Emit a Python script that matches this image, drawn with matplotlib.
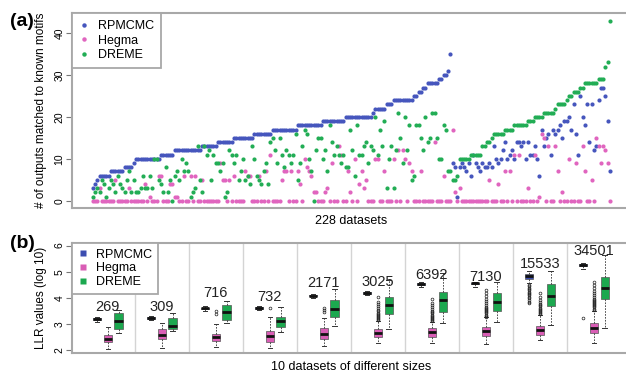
import matplotlib.pyplot as plt
from matplotlib.lines import Line2D

plt.rcParams['font.family'] = ['Liberation Sans', 'DejaVu Sans']

# ---- panel (a): outputs matched to known motifs, 228 datasets ----
rpmcmc_hits = [
    3, 4, 5, 6, 6, 6, 6, 6, 7, 7,
    7, 7, 7, 7, 8, 8, 8, 8, 9, 10,
    10, 10, 10, 10, 10, 10, 10, 10, 10, 10,
    11, 11, 11, 11, 11, 11, 12, 12, 12, 12,
    12, 12, 12, 12, 12, 12, 12, 12, 13, 13,
    13, 13, 13, 13, 13, 14, 14, 14, 14, 14,
    14, 14, 15, 15, 15, 15, 15, 15, 15, 15,
    15, 16, 16, 16, 16, 16, 16, 16, 16, 17,
    17, 17, 17, 17, 17, 17, 17, 17, 17, 17,
    18, 18, 18, 18, 18, 18, 18, 18, 18, 18,
    18, 19, 19, 19, 19, 19, 19, 19, 19, 19,
    19, 20, 20, 20, 20, 20, 20, 20, 20, 20,
    20, 20, 20, 21, 22, 22, 22, 22, 22, 23,
    23, 23, 24, 24, 24, 24, 24, 24, 24, 24,
    24, 25, 25, 26, 26, 27, 27, 28, 28, 28,
    28, 28, 29, 29, 30, 30, 31, 35,
    9, 8, 1, 8, 9, 8, 7, 9, 6, 11,
    9, 8, 7, 9, 8, 8, 9, 8, 13, 10,
    9, 10, 12, 14, 10, 11, 12, 10, 14, 14,
    13, 14, 10, 14, 11, 11, 13, 10, 6, 17,
    13, 15, 16, 11, 17, 16, 17, 18, 15, 19,
    19, 20, 17, 23, 16, 11, 25, 20, 18, 23,
    14, 23, 12, 13, 24, 27, 27, 25, 19, 7,
]
hegma_hits = [
    0, 0, 0, 3, 0, 0, 0, 0, 0, 0,
    5, 0, 0, 0, 0, 0, 3, 0, 0, 0,
    0, 0, 0, 4, 0, 1, 0, 0, 0, 6,
    6, 0, 0, 0, 4, 4, 1, 1, 0, 0,
    6, 0, 0, 6, 0, 6, 0, 0, 5, 0,
    0, 0, 0, 0, 0, 0, 9, 5, 5, 0,
    5, 0, 6, 0, 0, 0, 0, 7, 6, 6,
    0, 0, 0, 6, 0, 0, 7, 0, 11, 0,
    0, 0, 0, 5, 7, 7, 0, 7, 0, 0,
    7, 4, 0, 10, 8, 7, 6, 2, 2, 0,
    0, 0, 2, 3, 0, 9, 0, 0, 13, 11,
    0, 0, 7, 2, 0, 10, 0, 4, 7, 3,
    5, 0, 0, 0, 10, 10, 0, 0, 7, 0,
    0, 0, 10, 0, 12, 0, 12, 10, 0, 9,
    7, 0, 0, 0, 7, 0, 0, 0, 0, 0,
    14, 0, 0, 0, 6, 0, 0, 0,
    17, 2, 0, 3, 0, 0, 0, 0, 0, 0,
    0, 0, 0, 0, 0, 0, 5, 0, 0, 0,
    4, 0, 0, 7, 0, 7, 0, 11, 0, 11,
    0, 0, 0, 3, 0, 0, 11, 0, 1, 16,
    15, 0, 13, 0, 0, 13, 7, 0, 2, 0,
    0, 10, 0, 0, 9, 0, 0, 13, 7, 0,
    0, 5, 0, 15, 13, 9, 13, 12, 9, 0,
]
dreme_hits = [
    1, 2, 3, 2, 5, 4, 1, 3, 5, 4,
    2, 6, 4, 3, 2, 5, 7, 2, 5, 2,
    2, 3, 6, 3, 3, 6, 3, 10, 10, 5,
    4, 2, 8, 2, 5, 0, 6, 7, 5, 10,
    7, 9, 7, 1, 2, 3, 13, 5, 2, 13,
    11, 12, 5, 11, 9, 9, 7, 9, 1, 2,
    12, 11, 9, 11, 5, 7, 10, 5, 6, 4,
    13, 10, 6, 5, 4, 7, 9, 4, 14, 15,
    12, 9, 15, 11, 8, 12, 11, 9, 11, 16,
    5, 9, 13, 17, 16, 10, 7, 0, 12, 15,
    15, 10, 12, 7, 18, 14, 11, 13, 11, 9,
    11, 8, 8, 17, 12, 6, 18, 11, 11, 13,
    14, 9, 13, 12, 20, 11, 17, 13, 19, 3,
    10, 13, 3, 12, 21, 15, 9, 20, 12, 18,
    5, 6, 18, 18, 15, 12, 20, 14, 15, 21,
    21, 15, 10, 10, 18, 17, 7, 7,
    5, 5, 6, 10, 10, 10, 10, 10, 11, 11,
    11, 11, 11, 13, 13, 14, 14, 15, 16, 16,
    16, 16, 16, 17, 17, 17, 17, 18, 18, 18,
    18, 18, 18, 19, 19, 19, 20, 20, 20, 20,
    21, 21, 21, 21, 21, 22, 23, 23, 23, 23,
    24, 25, 25, 26, 26, 26, 27, 27, 28, 28,
    28, 28, 28, 28, 29, 29, 29, 32, 33, 43,
]
dataset_idx = list(range(1, len(rpmcmc_hits) + 1))

# ---- panel (b): LLR values (log10), box summaries ----
dataset_sizes = ['269', '309', '716', '732', '2171', '3025', '6392', '7130', '15533', '34501']
size_label_y = [3.66, 3.65, 4.18, 4.03, 4.57, 4.62, 4.87, 4.81, 5.30, 5.80]

rp_med = [3.18, 3.22, 3.60, 3.62, 4.08, 4.18, 4.53, 4.55, 4.85, 5.25]
rp_q1 = [3.15, 3.19, 3.57, 3.59, 4.05, 4.15, 4.50, 4.52, 4.72, 5.22]
rp_q3 = [3.21, 3.25, 3.62, 3.65, 4.11, 4.21, 4.56, 4.58, 4.93, 5.28]
rp_lo = [3.08, 3.14, 3.50, 3.55, 4.00, 4.10, 4.43, 4.40, 4.55, 5.12]
rp_hi = [3.28, 3.32, 3.68, 3.70, 4.14, 4.25, 4.60, 4.62, 5.04, 5.32]
rp_out = [[], [], [], [], [], [], [], [],
          [3.79, 3.85, 3.92, 3.98, 4.04, 4.09, 4.14, 4.19, 4.24, 4.29, 4.34, 4.39, 4.44, 4.49],
          [3.21]]

hg_med = [2.42, 2.57, 2.49, 2.54, 2.61, 2.64, 2.70, 2.73, 2.77, 2.83]
hg_q1 = [2.32, 2.41, 2.36, 2.32, 2.42, 2.49, 2.51, 2.54, 2.57, 2.64]
hg_q3 = [2.57, 2.79, 2.61, 2.73, 2.83, 2.80, 2.83, 2.87, 2.92, 3.02]
hg_lo = [2.03, 2.07, 2.10, 2.07, 2.15, 2.26, 2.26, 2.23, 2.38, 2.26]
hg_hi = [2.87, 3.05, 3.00, 3.28, 3.21, 3.11, 3.08, 3.25, 3.34, 3.50]
hg_out = [[], [], [3.38, 3.50], [3.62], [3.47, 3.55, 3.62],
          [3.15, 3.19, 3.23, 3.27, 3.31, 3.35, 3.39, 3.43, 3.48, 3.53, 3.60, 3.68, 3.77, 3.85, 4.04],
          [3.12, 3.16, 3.20, 3.24, 3.28, 3.32, 3.36, 3.40, 3.45, 3.50, 3.56, 3.63, 3.71, 3.80, 3.94],
          [3.28, 3.32, 3.36, 3.40, 3.44, 3.48, 3.52, 3.56, 3.61, 3.66, 3.72, 3.79, 3.87, 3.96, 4.06, 4.17, 4.30],
          [3.38, 3.42, 3.46, 3.50, 3.54, 3.58, 3.62, 3.67, 3.72, 3.78, 3.85, 3.93, 4.03, 4.17],
          [3.55, 3.59, 3.63, 3.67, 3.71, 3.75, 3.79, 3.83, 3.87, 3.92, 3.97, 4.03, 4.10, 4.18, 4.27, 4.38, 4.50, 4.62]]

dr_med = [3.11, 2.92, 3.45, 3.11, 3.57, 3.72, 3.92, 3.83, 4.07, 4.36]
dr_q1 = [2.82, 2.81, 3.15, 2.87, 3.28, 3.38, 3.47, 3.50, 3.69, 3.94]
dr_q3 = [3.42, 3.22, 3.72, 3.25, 3.92, 4.02, 4.23, 4.20, 4.53, 4.78]
dr_lo = [2.65, 2.72, 3.02, 2.70, 2.92, 2.79, 3.05, 3.08, 2.96, 2.85]
dr_hi = [3.52, 3.43, 3.89, 3.66, 4.33, 4.68, 4.94, 4.62, 5.04, 5.64]
dr_out = [[] for _ in dataset_sizes]

methods = ['RPMCMC', 'Hegma', 'DREME']
dot_colors = ['#4656bd', '#e065bf', '#22ad55']
box_colors = ['#3c4db0', '#d95db5', '#1ca84f']
frame_col = '#a8a8a8'

fig = plt.figure(figsize=(6.26, 3.77), dpi=100)
W, H = 626.0, 377.0

# ------------- (a) -------------
ax1 = fig.add_axes([72 / W, 1 - 208 / H, (630.7 - 72) / W, (208 - 13.3) / H])
for vals, col, name in zip([rpmcmc_hits, hegma_hits, dreme_hits], dot_colors, methods):
    ax1.scatter(dataset_idx, vals, s=9, color=col, linewidths=0, label=name, zorder=3)
ax1.set_xlim(-8.08, 237.08)
ax1.set_ylim(-1.72, 44.72)
ax1.set_xticks([])
ax1.set_yticks([0, 10, 20, 30, 40])
ax1.set_yticklabels(['0', '10', '20', '30', '40'], rotation=90, va='center')
ax1.set_ylabel('# of outputs matched to known motifs', fontsize=8.5)
ax1.yaxis.set_label_coords(-0.045, 0.5)
ax1.set_xlabel('228 datasets', fontsize=9)
ax1.xaxis.set_label_coords(0.5, -0.067)
ax1.xaxis.label.set_verticalalignment('center')

h1 = [Line2D([], [], ls='', marker='o', ms=3.2, mec='none', mfc=c) for c in dot_colors]
leg1 = ax1.legend(h1, methods, loc='upper left', bbox_to_anchor=(0, 1), borderaxespad=0,
                  fontsize=9, handlelength=0.8, handletextpad=0.7, borderpad=0.55,
                  labelspacing=0.2, fancybox=False, framealpha=1, edgecolor=frame_col)
leg1.get_frame().set_linewidth(1.3)

# ------------- (b) -------------
ax2 = fig.add_axes([72 / W, 1 - 353 / H, (629.5 - 72) / W, (353 - 243) / H])
summaries = [
    (rp_med, rp_q1, rp_q3, rp_lo, rp_hi, rp_out),
    (hg_med, hg_q1, hg_q3, hg_lo, hg_hi, hg_out),
    (dr_med, dr_q1, dr_q3, dr_lo, dr_hi, dr_out),
]
for m, (med, q1, q3, lo, hi, out) in enumerate(summaries):
    stats = []
    for k in range(len(dataset_sizes)):
        stats.append(dict(med=med[k], q1=q1[k], q3=q3[k], whislo=lo[k], whishi=hi[k], fliers=out[k]))
    pos = [5 * k + 1 + m for k in range(len(dataset_sizes))]
    bp = ax2.bxp(stats, positions=pos, widths=0.75, patch_artist=True, capwidths=0.38,
                 boxprops=dict(facecolor=box_colors[m], edgecolor='#555555', linewidth=0.5),
                 medianprops=dict(color='#111111', linewidth=2.0),
                 whiskerprops=dict(color='#333333', linewidth=0.6, linestyle=(0, (2, 1.5))),
                 capprops=dict(color='#333333', linewidth=0.7),
                 flierprops=dict(marker='o', markersize=2.0, markerfacecolor='none',
                                 markeredgecolor='#222222', markeredgewidth=0.5),
                 manage_ticks=False)

for k in range(1, len(dataset_sizes)):
    ax2.axvline(5 * k - 0.5, color='#d4d4d4', lw=1.0, zorder=0)

for k, (lab, ly) in enumerate(zip(dataset_sizes, size_label_y)):
    ax2.text(5 * k + 2, ly, lab, ha='center', va='center', fontsize=10.5, color='#222222')

ax2.set_xlim(-1.31, 50.31)
ax2.set_ylim(1.885, 6.1)
ax2.set_xticks([])
ax2.set_yticks([2, 3, 4, 5, 6])
ax2.set_yticklabels(['2', '3', '4', '5', '6'], rotation=90, va='center')
ax2.set_ylabel('LLR values (log 10)', fontsize=8.5)
ax2.yaxis.set_label_coords(-0.045, 0.5)
ax2.set_xlabel('10 datasets of different sizes', fontsize=9)
ax2.xaxis.set_label_coords(0.5, -0.127)
ax2.xaxis.label.set_verticalalignment('center')

h2 = [Line2D([], [], ls='', marker='s', ms=4, mec='none', mfc=c) for c in box_colors]
leg2 = ax2.legend(h2, methods, loc='upper left', bbox_to_anchor=(0, 1), borderaxespad=0,
                  fontsize=9, handlelength=0.8, handletextpad=0.7, borderpad=0.45,
                  labelspacing=0.15, fancybox=False, framealpha=1, edgecolor=frame_col)
leg2.get_frame().set_linewidth(1.3)

for ax in (ax1, ax2):
    for sp in ax.spines.values():
        sp.set_color(frame_col)
        sp.set_linewidth(1.5)
    ax.tick_params(axis='y', labelsize=7.5, length=4, width=0.8, color='#777777', pad=1.5)

fig.text(10 / W, 1 - 21 / H, '(a)', fontsize=14, fontweight='bold', va='center')
fig.text(10 / W, 1 - 243 / H, '(b)', fontsize=14, fontweight='bold', va='center')

fig.savefig('out.png', dpi=100)
